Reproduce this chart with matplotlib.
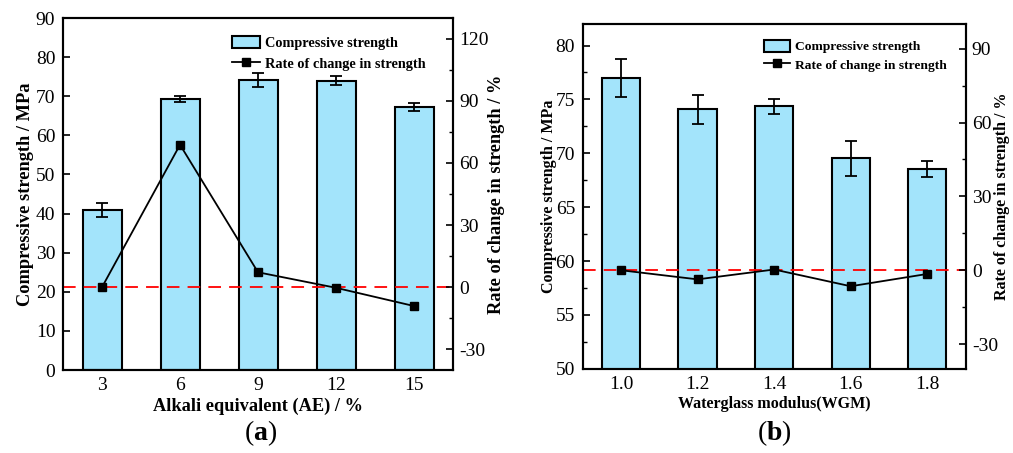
import numpy as np
import matplotlib.pyplot as plt

plt.rcParams['font.family'] = 'Liberation Serif'
plt.rcParams['mathtext.fontset'] = 'custom'
plt.rcParams['mathtext.rm'] = 'Liberation Serif'
plt.rcParams['mathtext.bf'] = 'Liberation Serif:bold'
plt.rcParams['axes.unicode_minus'] = False

# panel (a): alkali equivalent
ae = [3, 6, 9, 12, 15]
ae_strength = [41.0, 69.2, 74.2, 74.0, 67.3]
ae_err = [1.75, 0.75, 1.8, 1.2, 1.0]
ae_rate = [0.0, 68.8, 7.2, -0.3, -9.1]

# panel (b): waterglass modulus
wgm = [1.0, 1.2, 1.4, 1.6, 1.8]
wgm_strength = [76.96, 74.1, 74.36, 69.52, 68.56]
wgm_err = [1.75, 1.35, 0.68, 1.63, 0.73]
wgm_rate = [0.0, -3.7, 0.3, -6.5, -1.5]

bar_color = '#A3E4FB'

fig = plt.figure(figsize=(10.13, 4.53), dpi=100)
axa = fig.add_axes([0.0622, 0.1832, 0.385, 0.777])
axb = fig.add_axes([0.5752, 0.186, 0.378, 0.761])


def panel(ax, x, strength, err, rate, width, xlim, ylim, yticks, rlim, xlabel, lab_size,
          ylab_x, rlab_x, xlab_y, leg_anchor, leg_size, leg_space, tag, tag_x):
    bars = ax.bar(x, strength, width=width, color=bar_color, edgecolor='black', linewidth=1.5,
                  label='Compressive strength', zorder=2)
    ax.errorbar(x, strength, yerr=err, fmt='none', ecolor='black', elinewidth=1.3,
                capsize=4, capthick=1.3, zorder=3)
    ax.set_xlim(*xlim)
    ax.set_ylim(*ylim)
    ax.set_xticks(x)
    ax.set_yticks(yticks)
    ax.tick_params(direction='in', labelsize=14, width=1.2, length=5)
    ax.tick_params(axis='y', pad=5.5)
    ax.tick_params(axis='x', pad=5)
    ax.tick_params(axis='y', which='minor', direction='in', width=1.0, length=3)
    for s in ax.spines.values():
        s.set_linewidth(1.5)
    ax.set_xlabel(xlabel, fontsize=lab_size, fontweight='bold')
    ax.xaxis.set_label_coords(0.5, xlab_y)
    ax.set_ylabel('Compressive strength / MPa', fontsize=lab_size, fontweight='bold')
    ax.yaxis.set_label_coords(ylab_x, 0.5)

    ax2 = ax.twinx()
    ax2.set_ylim(*rlim)
    ax2.set_yticks(np.arange(-30, rlim[1] + 1, 30))
    ax2.set_yticks(np.arange(-30, rlim[1] + 1, 15), minor=True)
    ax2.tick_params(direction='in', labelsize=14, width=1.2, length=5, pad=4.5)
    ax2.tick_params(which='minor', direction='in', width=1.0, length=3)
    ax2.axhline(0, color='red', linestyle=(0, (7, 4.5)), linewidth=1.3, zorder=1)
    line, = ax2.plot(x, rate, color='black', marker='s', markersize=6, linewidth=1.3,
                     label='Rate of change in strength', zorder=4)
    ax2.set_ylabel('Rate of change in strength / %', fontsize=lab_size, fontweight='bold')
    ax2.yaxis.set_label_coords(rlab_x, 0.5)
    for s in ax2.spines.values():
        s.set_linewidth(1.5)

    ax2.legend([bars, line], ['Compressive strength', 'Rate of change in strength'],
               loc='upper left', bbox_to_anchor=leg_anchor, frameon=False,
               prop={'weight': 'bold', 'size': leg_size}, handlelength=1.95, handleheight=1.0,
               handletextpad=0.35, labelspacing=leg_space, borderaxespad=0, borderpad=0)
    fig.text(tag_x, 0.028, r'($\mathbf{' + tag + '}$)', fontsize=20, ha='center')
    return ax2


panel(axa, ae, ae_strength, ae_err, ae_rate, 1.5, (1.5, 16.5), (0, 90),
      np.arange(0, 91, 10), (-40, 130), 'Alkali equivalent (AE) / %', 13.2,
      -0.074, 1.09, -0.08, (0.433, 0.95), 10.3, 0.45, 'a', 0.257)
panel(axb, wgm, wgm_strength, wgm_err, wgm_rate, 0.1, (0.9, 1.9), (50, 82),
      np.arange(50, 81, 5), (-40, 100), 'Waterglass modulus(WGM)', 11.5,
      -0.067, 1.075, -0.079, (0.473, 0.955), 9.7, 0.35, 'b', 0.764)
axb.set_xticklabels(['1.0', '1.2', '1.4', '1.6', '1.8'])
axb.set_yticks(np.arange(50, 82, 2.5), minor=True)

fig.savefig('out.png', dpi=100)
